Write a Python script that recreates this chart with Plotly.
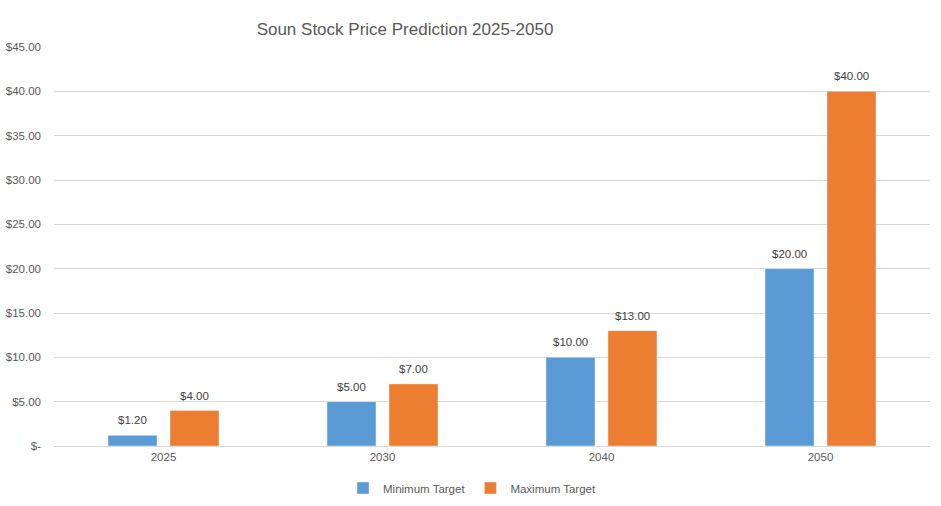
import plotly.graph_objects as go

years = ["2025", "2030", "2040", "2050"]
min_target = [1.2, 5.0, 10.0, 20.0]
max_target = [4.0, 7.0, 13.0, 40.0]
ytick_vals = [0, 5, 10, 15, 20, 25, 30, 35, 40, 45]
ytick_text = ["$-", "$5.00", "$10.00", "$15.00", "$20.00", "$25.00",
              "$30.00", "$35.00", "$40.00", "$45.00"]

W, H = 941, 506
ml, mr, mt, mb = 54, 11, 47, 60
font_family = "Liberation Sans, Arial, sans-serif"
gray = "#595959"
label_color = "#404040"

fig = go.Figure()
fig.add_trace(go.Bar(
    x=years, y=min_target, name="Minimum Target",
    marker=dict(color="#5B9BD5"),
))
fig.add_trace(go.Bar(
    x=years, y=max_target, name="Maximum Target",
    marker=dict(color="#ED7D31"),
))

# data labels above each bar (category index + half-slot pixel shift)
slot_px = 62
for vals, shift in ((min_target, -slot_px / 2), (max_target, slot_px / 2)):
    for i, v in enumerate(vals):
        fig.add_annotation(x=i, y=v, text=f"${v:,.2f}", showarrow=False,
                           xshift=shift, yshift=15, yanchor="middle",
                           font=dict(size=11.5, color=label_color,
                                     family=font_family))

legend_center_px = 472
fig.update_layout(
    width=W, height=H,
    margin=dict(l=ml, r=mr, t=mt, b=mb, autoexpand=False),
    paper_bgcolor="white", plot_bgcolor="white",
    font=dict(family=font_family, color=gray, size=11.5),
    barmode="group", bargap=0.434, bargroupgap=0.21,
    title=dict(text="Soun Stock Price Prediction 2025-2050",
               x=405 / W, xanchor="center", xref="container",
               y=1 - 29 / H, yanchor="middle", yref="container",
               font=dict(size=17, color=gray, family=font_family)),
    xaxis=dict(type="category", range=[-0.5, len(years) - 0.5],
               showgrid=False, showline=True,
               linecolor="#d9d9d9", ticks="", automargin=False,
               tickfont=dict(size=11.5, color=gray)),
    yaxis=dict(range=[0, 45], tickvals=ytick_vals, ticktext=ytick_text,
               showgrid=True, gridcolor="#d9d9d9", gridwidth=1,
               zeroline=False, showline=False, ticks="",
               ticklabelstandoff=12, automargin=False,
               tickfont=dict(size=11.5, color=gray)),
    legend=dict(orientation="h", x=(legend_center_px - ml) / (W - ml - mr),
                xanchor="center", y=-(488 - 446) / (H - mt - mb),
                yanchor="middle", font=dict(size=11.5, color=gray),
                itemwidth=30, traceorder="normal"),
    showlegend=True,
)

fig.write_html("out.html", config={"displayModeBar": False},
               post_script="document.body.style.margin='0';document.body.style.overflow='hidden';")
